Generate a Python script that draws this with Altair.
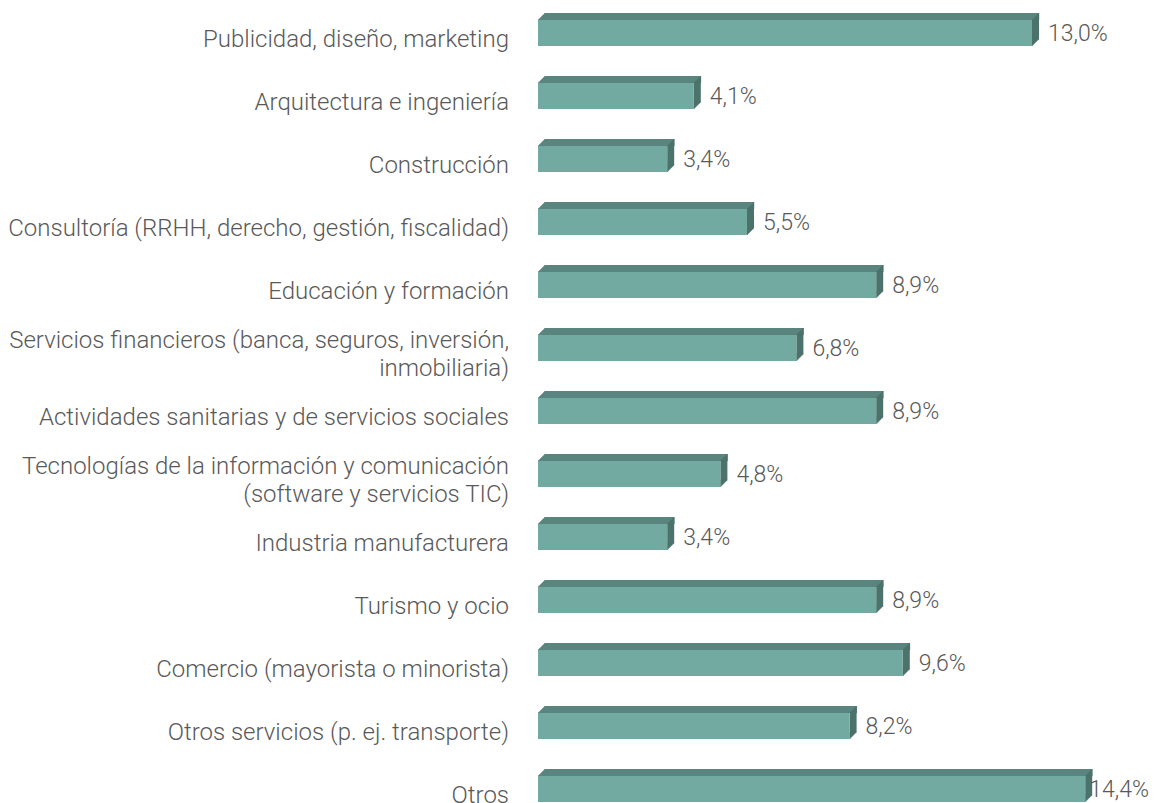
import altair as alt
import pandas as pd

categories = [
    "Publicidad, diseño, marketing",
    "Arquitectura e ingeniería",
    "Construcción",
    "Consultoría (RRHH, derecho, gestión, fiscalidad)",
    "Educación y formación",
    "Servicios financieros (banca, seguros, inversión,|inmobiliaria)",
    "Actividades sanitarias y de servicios sociales",
    "Tecnologías de la información y comunicación|(software y servicios TIC)",
    "Industria manufacturera",
    "Turismo y ocio",
    "Comercio (mayorista o minorista)",
    "Otros servicios (p. ej. transporte)",
    "Otros",
]
values = [13.0, 4.1, 3.4, 5.5, 8.9, 6.8, 8.9, 4.8, 3.4, 8.9, 9.6, 8.2, 14.4]
value_labels = ["13,0%", "4,1%", "3,4%", "5,5%", "8,9%", "6,8%", "8,9%",
                "4,8%", "3,4%", "8,9%", "9,6%", "8,2%", "14,4%"]

df = pd.DataFrame({"cat": categories, "v": values, "lab": value_labels, "zero": 0.0})

FRONT = "#72A9A0"
TOP = "#5A847E"
SIDE = "#4C726C"
TEXT = "#595959"
FONT = "Roboto"

D = 7      # depth
H = 26     # front face height

y_enc = alt.Y("cat:N", sort=categories, axis=None,
              scale=alt.Scale(paddingInner=0, paddingOuter=0))
x_scale = alt.Scale(domain=[0, 15], nice=False, zero=True)
x_enc = alt.X("v:Q", scale=x_scale, axis=None)
x0_enc = alt.X("zero:Q", scale=x_scale, axis=None)

base = alt.Chart(df)

side = base.mark_bar(color=SIDE, height=H, yOffset=-7 - D, xOffset=D, x2Offset=0).encode(
    x=x_enc, x2="v:Q", y=y_enc)
top = base.mark_bar(color=TOP, height=D, yOffset=-20 - D / 2, xOffset=D, x2Offset=D).encode(
    x=x_enc, x2="zero:Q", y=y_enc)

tri_tl = base.mark_point(shape="M-1,1L1,1L1,-1Z", size=D * D, filled=True, opacity=1,
                         color=TOP, strokeWidth=0.4, stroke=TOP,
                         xOffset=D / 2, yOffset=-20 - D / 2).encode(x=x0_enc, y=y_enc)
tri_tr = base.mark_point(shape="M-1,1L1,-1L1,1Z", size=D * D, filled=True, opacity=1,
                         color=SIDE, strokeWidth=0.4, stroke=SIDE,
                         xOffset=D / 2, yOffset=-20 - D / 2).encode(x=x_enc, y=y_enc)
tri_br = base.mark_point(shape="M-1,-1L1,-1L-1,1Z", size=D * D, filled=True, opacity=1,
                         color=SIDE, strokeWidth=0.4, stroke=SIDE,
                         xOffset=D / 2, yOffset=-20 + H - D / 2).encode(x=x_enc, y=y_enc)

front = base.mark_bar(color=FRONT, height=H, yOffset=-7).encode(
    x=x_enc, x2="zero:Q", y=y_enc)

vtxt = dict(font=FONT, fontWeight=300, fontSize=23, color=TEXT, baseline="middle")
ctxt = dict(font=FONT, fontWeight=300, fontSize=24, color=TEXT, baseline="middle")

vlabels = base.transform_filter("datum.v < 14").mark_text(
    align="left", dx=16, dy=-6, **vtxt).encode(x=x_enc, y=y_enc, text="lab:N")
vlabels_last = base.transform_filter("datum.v >= 14").mark_text(
    align="left", dx=4, dy=-6, **vtxt).encode(x=x_enc, y=y_enc, text="lab:N")

clabels1 = base.transform_filter("indexof(datum.cat, '|') < 0").mark_text(
    align="right", dx=-29, dy=0, **ctxt).encode(x=x0_enc, y=y_enc, text="cat:N")
clabels2 = base.transform_filter("indexof(datum.cat, '|') >= 0").mark_text(
    align="right", dx=-29, dy=-14, lineBreak="|", lineHeight=28, **ctxt).encode(
    x=x0_enc, y=y_enc, text="cat:N")

chart = alt.layer(side, top, tri_tl, tri_tr, tri_br, front,
                  vlabels, vlabels_last, clabels1, clabels2).properties(
    width=570,
    height=13 * 63,
    background="white",
    autosize=alt.AutoSizeParams(type="none"),
    padding={"left": 530, "top": 0.5, "right": 41, "bottom": 10},
).configure_view(strokeWidth=0, stroke=None)

chart.save("out.html", embed_options={"renderer": "svg", "actions": False})
